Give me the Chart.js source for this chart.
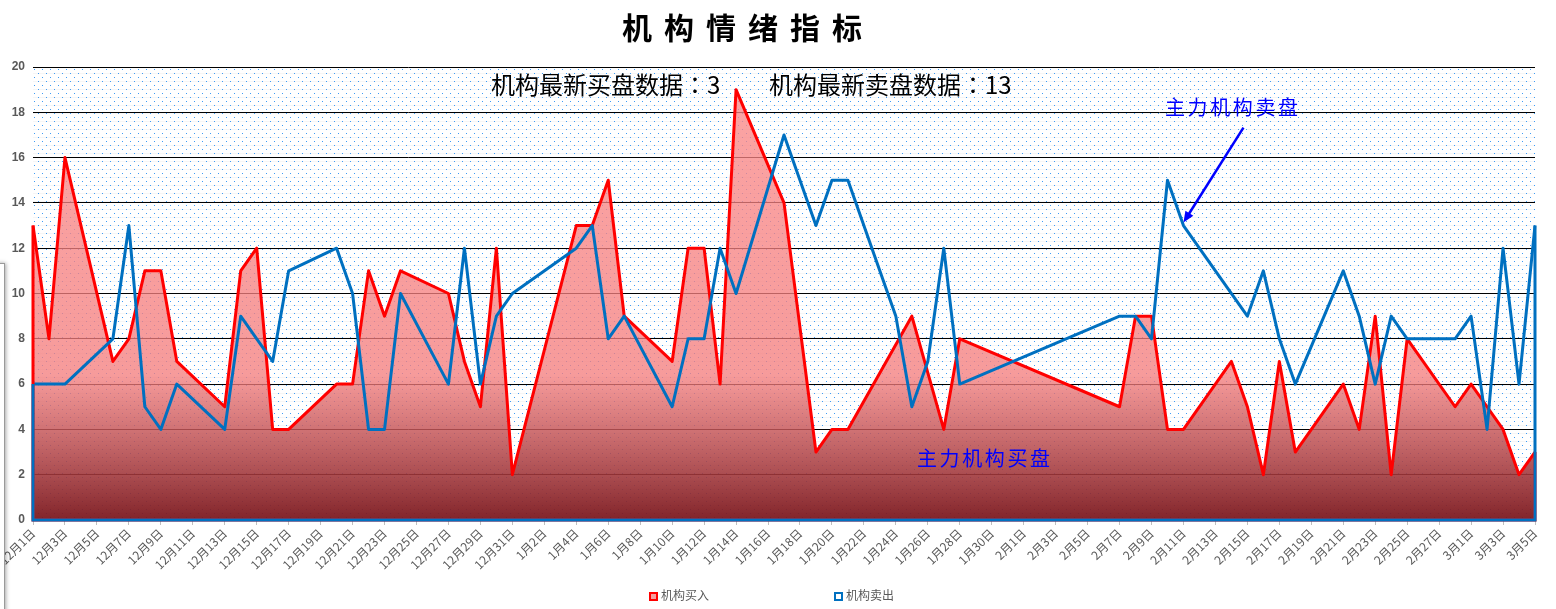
<!DOCTYPE html>
<html>
<head>
<meta charset="utf-8">
<script src="https://cdn.jsdelivr.net/npm/chart.js"></script>
<style>
  body { margin: 0; background: #fff; font-family: "Noto Sans CJK SC", sans-serif; }
  #wrap { position: relative; width: 1556px; height: 609px; overflow: hidden; }
  #wrap canvas { position: absolute; left: 0; top: 0; }
  .txt { position: absolute; white-space: nowrap; line-height: 1; }
  #title { left: 622px; top: 11px; font-size: 30px; font-weight: 700; letter-spacing: 12px; color: #000; }
  .info { top: 72px; font-size: 24px; color: #000; }
  .info span { font-family: "Noto Sans CJK TC", sans-serif; }
  .note { font-size: 20px; letter-spacing: 2.6px; color: #0000ff; }
  .legend { top: 589px; font-size: 12px; color: #595959; }
  .legend i { display: inline-block; width: 5px; height: 5px; border: 2px solid; margin-right: 3px; vertical-align: -1px; }
  #sidebox { position: absolute; left: -20px; top: 263px; width: 23px; height: 400px;
             border: 1px solid #9a9a9a; box-shadow: 1px 0 4px rgba(0,0,0,0.35); background: #fff; }
</style>
</head>
<body>
<div id="wrap">
  <canvas id="chart" width="1556" height="609"></canvas>
  <div id="sidebox"></div>
  <div id="title" class="txt">机构情绪指标</div>
  <div id="infoBuy" class="txt info" style="left:491px"></div>
  <div id="infoSell" class="txt info" style="left:769px"></div>
  <div class="txt note" style="left:1165px; top:97px">主力机构卖盘</div>
  <div class="txt note" style="left:917px; top:448px">主力机构买盘</div>
  <div id="legBuy" class="txt legend" style="left:649px"></div>
  <div id="legSell" class="txt legend" style="left:834px"></div>
</div>
<script>
// trading days 12月1日 .. 3月5日 (weekends / holidays are null)
const dateLabels = [
  '12月1日', '12月2日', '12月3日', '12月4日', '12月5日', '12月6日', '12月7日', '12月8日', '12月9日', '12月10日',
  '12月11日', '12月12日', '12月13日', '12月14日', '12月15日', '12月16日', '12月17日', '12月18日', '12月19日', '12月20日',
  '12月21日', '12月22日', '12月23日', '12月24日', '12月25日', '12月26日', '12月27日', '12月28日', '12月29日', '12月30日',
  '12月31日', '1月1日', '1月2日', '1月3日', '1月4日', '1月5日', '1月6日', '1月7日', '1月8日', '1月9日',
  '1月10日', '1月11日', '1月12日', '1月13日', '1月14日', '1月15日', '1月16日', '1月17日', '1月18日', '1月19日',
  '1月20日', '1月21日', '1月22日', '1月23日', '1月24日', '1月25日', '1月26日', '1月27日', '1月28日', '1月29日',
  '1月30日', '1月31日', '2月1日', '2月2日', '2月3日', '2月4日', '2月5日', '2月6日', '2月7日', '2月8日',
  '2月9日', '2月10日', '2月11日', '2月12日', '2月13日', '2月14日', '2月15日', '2月16日', '2月17日', '2月18日',
  '2月19日', '2月20日', '2月21日', '2月22日', '2月23日', '2月24日', '2月25日', '2月26日', '2月27日', '2月28日',
  '3月1日', '3月2日', '3月3日', '3月4日', '3月5日'
];

const buyData = [
  13, 8, 16, null, null, 7, 8, 11, 11, 7,
  null, null, 5, 11, 12, 4, 4, null, null, 6,
  6, 11, 9, 11, null, null, 10, 7, 5, 12,
  2, null, null, null, 13, 13, 15, 9, null, null,
  7, 12, 12, 6, 19, null, null, 14, null, 3,
  4, 4, null, null, null, 9, null, 4, 8, null,
  null, null, null, null, null, null, null, null, 5, 9,
  9, 4, 4, null, null, 7, 5, 2, 7, 3,
  null, null, 6, 4, 9, 2, 8, null, null, 5,
  6, 5, 4, 2, 3
];

const sellData = [
  6, 6, 6, null, null, 8, 13, 5, 4, 6,
  null, null, 4, 9, 8, 7, 11, null, null, 12,
  10, 4, 4, 10, null, null, 6, 12, 6, 9,
  10, null, null, null, 12, 13, 8, 9, null, null,
  5, 8, 8, 12, 10, null, null, 17, null, 13,
  15, 15, null, null, 9, 5, 7, 12, 6, null,
  null, null, null, null, null, null, null, null, 9, 9,
  8, 15, 13, null, null, null, 9, 11, 8, 6,
  null, null, 11, 9, 6, 9, 8, null, null, 8,
  9, 4, 12, 6, 13
];

const seriesNames = ['机构买入', '机构卖出'];
const yTicks = [0, 20, 2]; // min, max, step
const arrowTarget = 72;    // index of the sell point the arrow points at

const lastValue = arr => arr.filter(v => v != null).slice(-1)[0];
document.getElementById('infoBuy').innerHTML = '机构最新买盘数据<span>：</span>' + lastValue(buyData);
document.getElementById('infoSell').innerHTML = '机构最新卖盘数据<span>：</span>' + lastValue(sellData);
document.getElementById('legBuy').innerHTML = '<i style="border-color:#ff0000;background:#f4a0a0"></i>' + seriesNames[0];
document.getElementById('legSell').innerHTML = '<i style="border-color:#0070c0;background:#fff"></i>' + seriesNames[1];

// dotted plot-area background (Excel pattern fill look-alike)
const backgroundPlugin = {
  id: 'plotBackground',
  beforeDraw(chart) {
    const { ctx, chartArea: a } = chart;
    const left = Math.round(a.left), top = Math.round(a.top);
    const right = Math.round(a.right), bottom = Math.round(a.bottom);
    ctx.save();
    ctx.fillStyle = '#ffffff';
    ctx.fillRect(left, top, right - left, bottom - top);
    ctx.fillStyle = '#f6f6f6';
    for (let yy = top + 6; yy < bottom; yy += 8) ctx.fillRect(left, yy, right - left, 1);
    ctx.fillStyle = '#3d9bf5';
    let row = 0;
    for (let yy = top + 2; yy < bottom; yy += 4, row++) {
      for (let xx = left + 1 + (row % 2) * 4; xx < right; xx += 8) ctx.fillRect(xx, yy, 1, 1);
    }
    ctx.restore();
  }
};

// Excel-style area outline: vertical edges at both ends and the baseline
const outlinePlugin = {
  id: 'areaOutline',
  afterDatasetsDraw(chart) {
    const { ctx, scales: { x, y } } = chart;
    chart.data.datasets.forEach(ds => {
      const idx = ds.data.map((v, j) => (v == null ? -1 : j)).filter(j => j >= 0);
      const first = idx[0];
      const last = idx[idx.length - 1];
      ctx.save();
      ctx.strokeStyle = ds.borderColor;
      ctx.lineWidth = ds.borderWidth;
      ctx.beginPath();
      ctx.moveTo(x.getPixelForValue(first), y.getPixelForValue(ds.data[first]));
      ctx.lineTo(x.getPixelForValue(first), y.getPixelForValue(0));
      ctx.lineTo(x.getPixelForValue(last), y.getPixelForValue(0));
      ctx.lineTo(x.getPixelForValue(last), y.getPixelForValue(ds.data[last]));
      ctx.stroke();
      ctx.restore();
    });
  }
};

const arrowPlugin = {
  id: 'arrow',
  afterDraw(chart) {
    const { ctx, scales: { x, y } } = chart;
    const tx = x.getPixelForValue(arrowTarget);
    const ty = y.getPixelForValue(sellData[arrowTarget]) - 3;
    const fx = tx + 60, fy = ty - 95;
    const ang = Math.atan2(ty - fy, tx - fx);
    ctx.save();
    ctx.strokeStyle = '#0000ff';
    ctx.fillStyle = '#0000ff';
    ctx.lineWidth = 2.5;
    ctx.beginPath();
    ctx.moveTo(fx, fy);
    ctx.lineTo(tx - 8 * Math.cos(ang), ty - 8 * Math.sin(ang));
    ctx.stroke();
    ctx.beginPath();
    ctx.moveTo(tx, ty);
    ctx.lineTo(tx - 12 * Math.cos(ang - 0.4), ty - 12 * Math.sin(ang - 0.4));
    ctx.lineTo(tx - 12 * Math.cos(ang + 0.4), ty - 12 * Math.sin(ang + 0.4));
    ctx.closePath();
    ctx.fill();
    ctx.restore();
  }
};

const ctx = document.getElementById('chart').getContext('2d');

new Chart(ctx, {
  type: 'line',
  data: {
    labels: dateLabels,
    datasets: [
      {
        label: seriesNames[0],
        data: buyData,
        borderColor: '#ff0000',
        borderWidth: 3,
        borderJoinStyle: 'round',
        fill: 'origin',
        backgroundColor: function(context) {
          const area = context.chart.chartArea;
          if (!area) return 'rgba(248,140,140,0.75)';
          const g = context.chart.ctx.createLinearGradient(0, area.top, 0, area.bottom);
          g.addColorStop(0, 'rgba(250,135,135,0.76)');
          g.addColorStop(0.68, 'rgba(244,125,125,0.77)');
          g.addColorStop(1, 'rgba(122,22,28,0.94)');
          return g;
        },
        pointRadius: 0,
        tension: 0,
        spanGaps: true,
        order: 1
      },
      {
        label: seriesNames[1],
        data: sellData,
        borderColor: '#0070c0',
        borderWidth: 3,
        borderJoinStyle: 'round',
        fill: false,
        pointRadius: 0,
        tension: 0,
        spanGaps: true,
        order: 0
      }
    ]
  },
  options: {
    responsive: false,
    animation: false,
    devicePixelRatio: 1,
    layout: { padding: { top: 67, right: 21, bottom: 0, left: 0 } },
    plugins: {
      legend: { display: false },
      tooltip: { enabled: false },
      title: { display: false }
    },
    scales: {
      x: {
        offset: false,
        border: { display: false },
        grid: { drawOnChartArea: false, drawTicks: true, tickLength: 5, color: '#bfbfbf' },
        ticks: {
          autoSkip: false,
          minRotation: 45,
          maxRotation: 45,
          padding: 1,
          color: '#595959',
          font: { family: 'Noto Sans CJK SC', size: 12 },
          callback: function(value, index) {
            return index % 2 === 0 ? this.getLabelForValue(value) : null;
          }
        },
        afterFit: scale => { scale.height = 89; }
      },
      y: {
        min: yTicks[0],
        max: yTicks[1],
        border: { display: false },
        grid: { color: '#000000', lineWidth: 1, drawTicks: false },
        ticks: {
          stepSize: yTicks[2],
          padding: 8,
          color: '#595959',
          font: { family: 'Liberation Sans', size: 12, weight: 'bold' }
        },
        afterFit: scale => { scale.width = 33; }
      }
    }
  },
  plugins: [backgroundPlugin, outlinePlugin, arrowPlugin]
});
</script>
</body>
</html>
